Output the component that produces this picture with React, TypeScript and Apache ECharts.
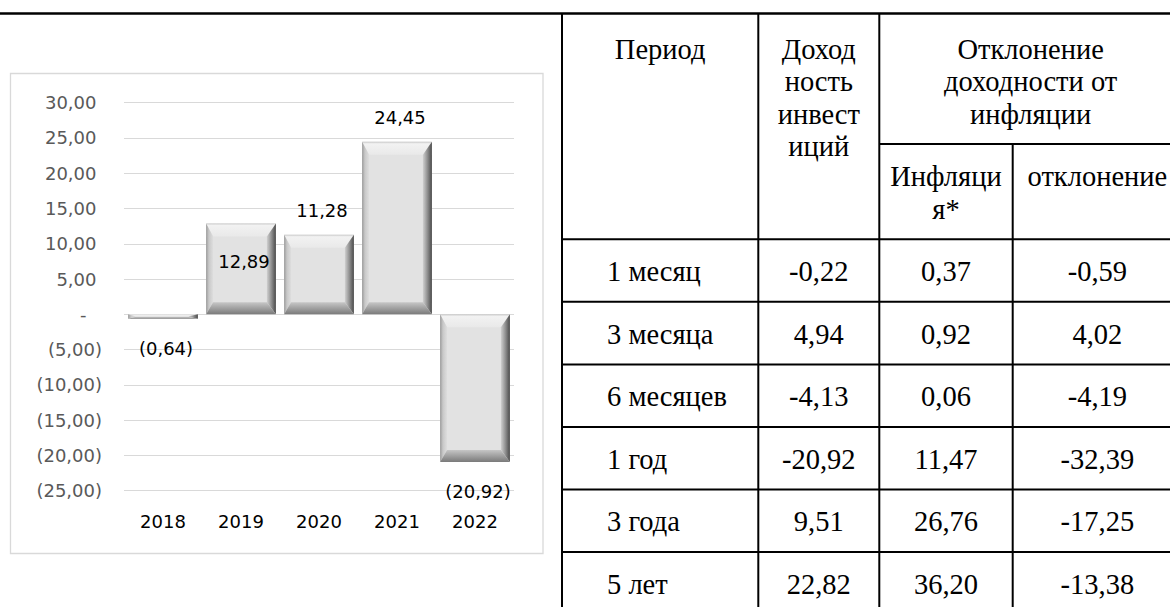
import React, { useEffect, useRef } from "react";
import * as echarts from "echarts";

// ---- chart data ----
const years = ["2018", "2019", "2020", "2021", "2022"];
const returns = [-0.64, 12.89, 11.28, 24.45, -20.92];
const labelInside = [false, true, false, false, false];
const yMin = -25;
const yMax = 30;
const yStep = 5;

// ---- table data ----
const headPeriod = "Период";
const headReturnLines = ["Доход", "ность", "инвест", "иций"];
const headDevLines = ["Отклонение", "доходности от", "инфляции"];
const headInflLines = ["Инфляци", "я*"];
const headDeviation = "отклонение";
const periods = ["1 месяц", "3 месяца", "6 месяцев", "1 год", "3 года", "5 лет"];
const investReturn = [-0.22, 4.94, -4.13, -20.92, 9.51, 22.82];
const inflation = [0.37, 0.92, 0.06, 11.47, 26.76, 36.2];
const deviation = [-0.59, 4.02, -4.19, -32.39, -17.25, -13.38];

const SANS = "DejaVu Sans";
const SERIF = "Liberation Serif";

const comma = (v: number) => v.toFixed(2).replace(".", ",");
const acc = (v: number) => (v < 0 ? `(${comma(Math.abs(v))})` : comma(v));

function buildTable(): any[] {
  const els: any[] = [];
  const colX = [562, 758.3, 879.3, 1012.7];
  const rightX = 1182;
  const topY = 13.5;
  const subY = 144;
  const rowY = [239.3, 301.7, 364.5, 427, 489.5, 552, 614.5];
  const L = (x1: number, y1: number, x2: number, y2: number, w = 2) => ({
    type: "line",
    shape: { x1, y1, x2, y2 },
    style: { stroke: "#000", lineWidth: w },
    silent: true,
  });
  els.push(L(0, topY, 1170, topY, 2.5));
  els.push(L(colX[0], topY, colX[0], 607));
  els.push(L(colX[1], topY, colX[1], 607));
  els.push(L(colX[2], topY, colX[2], 607));
  els.push(L(colX[3], subY, colX[3], 607));
  els.push(L(colX[2], subY, 1170, subY));
  for (let i = 0; i < rowY.length - 1; i++) els.push(L(colX[0], rowY[i], 1170, rowY[i]));

  const T = (text: string, x: number, y: number, align = "center") => ({
    type: "text",
    x,
    y,
    silent: true,
    style: {
      text,
      fill: "#000",
      fontFamily: SERIF,
      fontSize: 28.5,
      align,
      verticalAlign: "middle",
    },
  });
  const head0 = 49;
  const sub0 = 176.5;
  const pitch = 32.5;
  els.push(T(headPeriod, (colX[0] + colX[1]) / 2, head0));
  headReturnLines.forEach((t, k) => els.push(T(t, (colX[1] + colX[2]) / 2, head0 + k * pitch)));
  headDevLines.forEach((t, k) => els.push(T(t, (colX[2] + rightX) / 2, head0 + k * pitch)));
  headInflLines.forEach((t, k) => els.push(T(t, (colX[2] + colX[3]) / 2, sub0 + k * pitch)));
  els.push(T(headDeviation, (colX[3] + rightX) / 2, sub0));

  periods.forEach((p, i) => {
    const cy = (rowY[i] + rowY[i + 1]) / 2 + 1;
    els.push(T(p, 607, cy, "left"));
    els.push(T(comma(investReturn[i]), (colX[1] + colX[2]) / 2, cy));
    els.push(T(comma(inflation[i]), (colX[2] + colX[3]) / 2, cy));
    els.push(T(comma(deviation[i]), (colX[3] + rightX) / 2, cy));
  });
  return els;
}

const LG = echarts.graphic.LinearGradient;

function renderItem(params: any, api: any) {
  const i = params.dataIndex;
  const cat = api.value(0);
  const v = api.value(1);
  const base = api.coord([cat, 0]);
  const end = api.coord([cat, v]);
  const band = api.size([1, 0])[0];
  const w = band * 0.895;
  const Lx = base[0] - w / 2;
  const Rx = base[0] + w / 2;
  const Ty = Math.min(base[1], end[1]);
  const By = Math.max(base[1], end[1]);
  const h = By - Ty;
  const bt = Math.min(13, h * 0.4);
  const bb = Math.min(12, h * 0.4);
  const bl = Math.min(7, w * 0.2);
  const br = Math.min(9, w * 0.2);
  const children: any[] = [
    {
      type: "rect",
      shape: { x: Lx, y: Ty, width: w, height: h },
      style: { fill: "#e2e2e2" },
    },
    {
      type: "polygon",
      shape: { points: [[Lx, Ty], [Rx, Ty], [Rx - br, Ty + bt], [Lx + bl, Ty + bt]] },
      style: {
        fill: new LG(0, 0, 0, 1, [
          { offset: 0, color: "#c9c9c9" },
          { offset: 0.15, color: "#f2f2f2" },
          { offset: 1, color: "#e9e9e9" },
        ]),
      },
    },
    {
      type: "polygon",
      shape: { points: [[Lx, Ty], [Lx + bl, Ty + bt], [Lx + bl, By - bb], [Lx, By]] },
      style: {
        fill: new LG(0, 0, 1, 0, [
          { offset: 0, color: "#9a9a9a" },
          { offset: 0.4, color: "#c8c8c8" },
          { offset: 1, color: "#dedede" },
        ]),
      },
    },
    {
      type: "polygon",
      shape: { points: [[Rx, Ty], [Rx, By], [Rx - br, By - bb], [Rx - br, Ty + bt]] },
      style: {
        fill: new LG(0, 0, 1, 0, [
          { offset: 0, color: "#d0d0d0" },
          { offset: 0.5, color: "#909090" },
          { offset: 1, color: "#4a4a4a" },
        ]),
      },
    },
    {
      type: "polygon",
      shape: { points: [[Lx, By], [Rx, By], [Rx - br, By - bb], [Lx + bl, By - bb]] },
      style: {
        fill: new LG(0, 0, 0, 1, [
          { offset: 0, color: "#c6c6c6" },
          { offset: 1, color: "#7a7a7a" },
        ]),
      },
    },
  ];
  let ly: number;
  if (v < 0) ly = By + 29.5;
  else if (labelInside[i]) ly = Ty + 38;
  else ly = Ty - 24;
  children.push({
    type: "text",
    x: base[0] + 3,
    y: ly,
    style: {
      text: acc(v),
      fill: "#000",
      fontFamily: SANS,
      fontSize: 18,
      align: "center",
      verticalAlign: "middle",
    },
  });
  return { type: "group", children };
}

export default function App() {
  const ref = useRef<HTMLDivElement>(null);
  useEffect(() => {
    if (!ref.current) return;
    const chart = echarts.init(ref.current, undefined, { renderer: "svg" });
    const labelStyle = { fontFamily: SANS, fontSize: 18, color: "#595959" };
    const option: any = {
      animation: false,
      backgroundColor: "#ffffff",
      grid: { left: 124, top: 102.7, width: 390, height: 388, outerBoundsMode: "none" },
      xAxis: {
        type: "category",
        data: years,
        axisLine: { show: false, onZero: false },
        axisTick: { show: false },
        splitLine: { show: false },
        axisLabel: { fontFamily: SANS, fontSize: 18, color: "#000", margin: 22 },
      },
      yAxis: {
        type: "value",
        min: yMin,
        max: yMax,
        interval: yStep,
        axisLine: { show: false },
        axisTick: { show: false },
        splitLine: { lineStyle: { color: "#d9d9d9", width: 1 } },
        axisLabel: {
          margin: 22,
          ...labelStyle,
          formatter: (v: number) =>
            v === 0 ? "{z|-}" : v < 0 ? `{n|${acc(v)}}` : `{p|${acc(v)}}`,
          rich: {
            p: { ...labelStyle, padding: [0, 5.5, 0, 0] },
            n: { ...labelStyle },
            z: { ...labelStyle, padding: [0, 15.5, 0, 0] },
          },
        },
      },
      series: [
        {
          type: "custom",
          renderItem,
          clip: false,
          encode: { x: 0, y: 1 },
          data: returns.map((v, i) => [i, v]),
        },
      ],
      graphic: [
        {
          type: "rect",
          silent: true,
          shape: { x: 10.5, y: 73.5, width: 532.5, height: 480 },
          style: { fill: "none", stroke: "#d9d9d9", lineWidth: 1.3 },
        },
        ...buildTable(),
      ],
    };
    chart.setOption(option);
    return () => chart.dispose();
  }, []);
  return (
    <div
      ref={ref}
      style={{ position: "absolute", left: 0, top: 0, width: 1170, height: 607, background: "#fff" }}
    />
  );
}
